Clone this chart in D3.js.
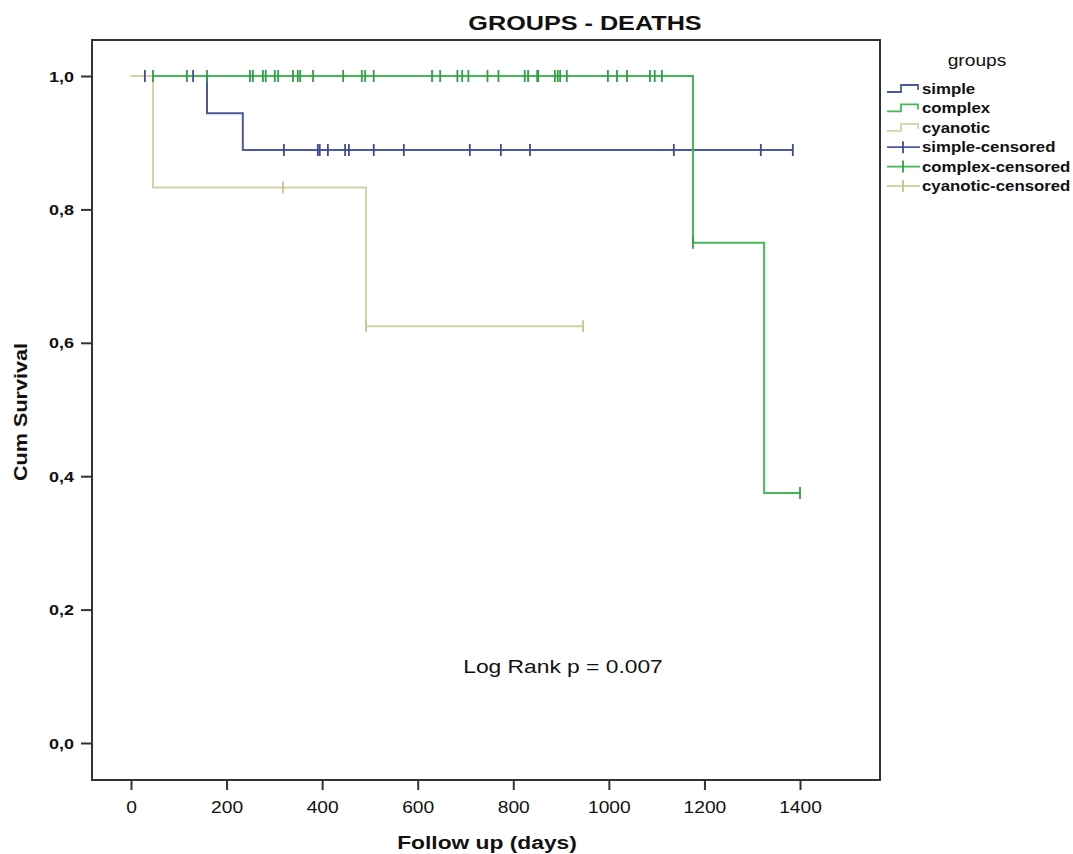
<!DOCTYPE html>
<html lang="en">

<head>
    <meta charset="UTF-8">
    <title>GROUPS - DEATHS</title>
    <script src="https://d3js.org/d3.v7.min.js"></script>
    <style>
        body { margin: 0; background: #fff; }
        text { font-family: "Liberation Sans", Arial, sans-serif; fill: #111; }
    </style>
</head>

<body>
    <div id="chart"></div>
    <script>
        // groups and their Kaplan-Meier steps (days, cum survival)
        var groups = ["simple", "complex", "cyanotic"];

        var simpleTimes = [0, 159, 234];
        var simpleSurv = [1, 0.944, 0.889];
        var simpleEnd = 1385;
        var simpleCensored = [29, 130, 320, 391, 395, 412, 448, 456, 508, 571, 709, 774, 835, 1136, 1318, 1385];

        var complexTimes = [0, 1176, 1325];
        var complexSurv = [1, 0.75, 0.375];
        var complexEnd = 1400;
        var complexCensored = [46, 117, 159, 249, 255, 276, 282, 301, 308, 339, 349, 354, 381, 444, 483, 490, 508,
            630, 647, 683, 693, 706, 746, 769, 824, 831, 850, 852, 887, 893, 898, 912, 998, 1017, 1038,
            1086, 1096, 1111, 1176, 1400];

        var cyanoticTimes = [0, 46, 492];
        var cyanoticSurv = [1, 0.833, 0.625];
        var cyanoticEnd = 946;
        var cyanoticCensored = [318, 492, 946];

        var xTicks = [0, 200, 400, 600, 800, 1000, 1200, 1400];
        var yTicks = [0, 0.2, 0.4, 0.6, 0.8, 1.0];

        var legendLabels = ["simple", "complex", "cyanotic", "simple-censored", "complex-censored", "cyanotic-censored"];

        var lineColors = { simple: "#4b58a3", complex: "#45b856", cyanotic: "#d2d2a2" };
        var markColors = { simple: "#3c4a96", complex: "#2f9f45", cyanotic: "#c4c48e" };

        var series = {
            simple: { times: simpleTimes, surv: simpleSurv, end: simpleEnd, cens: simpleCensored },
            complex: { times: complexTimes, surv: complexSurv, end: complexEnd, cens: complexCensored },
            cyanotic: { times: cyanoticTimes, surv: cyanoticSurv, end: cyanoticEnd, cens: cyanoticCensored }
        };

        var width = 1073, height = 854;
        var stretch = 1.2; // the source font renders wide

        var svg = d3.select("#chart").append("svg")
            .attr("width", width)
            .attr("height", height);

        var x = d3.scaleLinear().domain([0, 1400]).range([131, 800]);
        var y = d3.scaleLinear().domain([0, 1]).range([743, 76]);

        var frame = { left: 92, right: 880, top: 40, bottom: 780 };

        function wideText(sel, tx, ty, rot) {
            return sel.attr("x", 0).attr("y", 0)
                .attr("transform", "translate(" + tx + "," + ty + ") rotate(" + (rot || 0) + ") scale(" + stretch + ",1)");
        }

        // survival value at time t for a group
        function survAt(s, t) {
            var v = s.surv[0];
            for (var i = 0; i < s.times.length; i++) {
                if (s.times[i] <= t) v = s.surv[i];
            }
            return v;
        }

        // frame
        svg.append("rect")
            .attr("x", frame.left)
            .attr("y", frame.top)
            .attr("width", frame.right - frame.left)
            .attr("height", frame.bottom - frame.top)
            .attr("fill", "none")
            .attr("stroke", "#333")
            .attr("stroke-width", 2);

        // axes
        var xAxis = d3.axisBottom(x).tickValues(xTicks).tickSize(10).tickFormat(d3.format("d"));
        var gx = svg.append("g").attr("transform", "translate(0," + frame.bottom + ")").call(xAxis);
        gx.select(".domain").remove();
        gx.selectAll(".tick line").attr("stroke", "#333").attr("stroke-width", 2);
        gx.selectAll(".tick text").each(function () {
            wideText(d3.select(this), 0, 33, 0);
        }).style("font-size", "16px").attr("fill", "#333")
            .attr("text-anchor", "middle").attr("dy", null);

        var yAxis = d3.axisLeft(y).tickValues(yTicks).tickSize(11)
            .tickFormat(function (d) { return d3.format(".1f")(d).replace(".", ","); });
        var gy = svg.append("g").attr("transform", "translate(" + frame.left + ",0)").call(yAxis);
        gy.select(".domain").remove();
        gy.selectAll(".tick line").attr("stroke", "#333").attr("stroke-width", 2);
        gy.selectAll(".tick text").each(function () {
            wideText(d3.select(this), -18, 5, 0);
        }).style("font-size", "15px").style("font-weight", "bold").attr("fill", "#333")
            .attr("text-anchor", "end").attr("dy", null);

        // curves
        var line = d3.line()
            .x(function (d) { return x(d[0]); })
            .y(function (d) { return y(d[1]); })
            .curve(d3.curveStepAfter);

        var drawOrder = ["simple", "complex", "cyanotic"];
        drawOrder.forEach(function (g) {
            var s = series[g];
            var pts = s.times.map(function (t, i) { return [t, s.surv[i]]; });
            pts.push([s.end, s.surv[s.surv.length - 1]]);
            svg.append("path")
                .datum(pts)
                .attr("d", line)
                .attr("fill", "none")
                .attr("stroke", lineColors[g])
                .attr("stroke-width", 2);
        });

        // censored marks
        drawOrder.forEach(function (g) {
            var s = series[g];
            svg.append("g").selectAll("line")
                .data(s.cens)
                .enter().append("line")
                .attr("x1", function (d) { return x(d); })
                .attr("x2", function (d) { return x(d); })
                .attr("y1", function (d) { return y(survAt(s, d)) - 6; })
                .attr("y2", function (d) { return y(survAt(s, d)) + 6; })
                .attr("stroke", markColors[g])
                .attr("stroke-width", 1.8);
        });

        // titles
        wideText(svg.append("text"), 585, 30, 0)
            .attr("text-anchor", "middle")
            .style("font-size", "21px")
            .style("font-weight", "bold")
            .text("GROUPS - DEATHS");

        wideText(svg.append("text"), 487, 849, 0)
            .attr("text-anchor", "middle")
            .style("font-size", "19px")
            .style("font-weight", "bold")
            .text("Follow up (days)");

        wideText(svg.append("text"), 27, 412, -90)
            .attr("text-anchor", "middle")
            .style("font-size", "18px")
            .style("font-weight", "bold")
            .text("Cum Survival");

        wideText(svg.append("text"), 563, 673, 0)
            .attr("text-anchor", "middle")
            .style("font-size", "19px")
            .attr("fill", "#222")
            .text("Log Rank p = 0.007");

        // legend
        var legend = svg.append("g");
        wideText(legend.append("text"), 977, 66, 0)
            .attr("text-anchor", "middle")
            .style("font-size", "16px")
            .text("groups");

        legendLabels.forEach(function (label, i) {
            var ly = 89 + i * 19.4;
            var g = groups[i % 3];
            if (i < 3) {
                legend.append("path")
                    .attr("d", "M887," + (ly + 3) + "H901V" + (ly - 4) + "H918V" + (ly + 1))
                    .attr("fill", "none")
                    .attr("stroke", lineColors[g])
                    .attr("stroke-width", 1.8);
            } else {
                legend.append("line")
                    .attr("x1", 887).attr("x2", 920)
                    .attr("y1", ly).attr("y2", ly)
                    .attr("stroke", lineColors[g])
                    .attr("stroke-width", 1.8);
                legend.append("line")
                    .attr("x1", 903).attr("x2", 903)
                    .attr("y1", ly - 6).attr("y2", ly + 6)
                    .attr("stroke", markColors[g])
                    .attr("stroke-width", 1.8);
            }
            wideText(legend.append("text"), 922, ly + 5, 0)
                .style("font-size", "14px")
                .style("font-weight", "bold")
                .attr("fill", "#222")
                .text(label);
        });
    </script>
</body>

</html>
